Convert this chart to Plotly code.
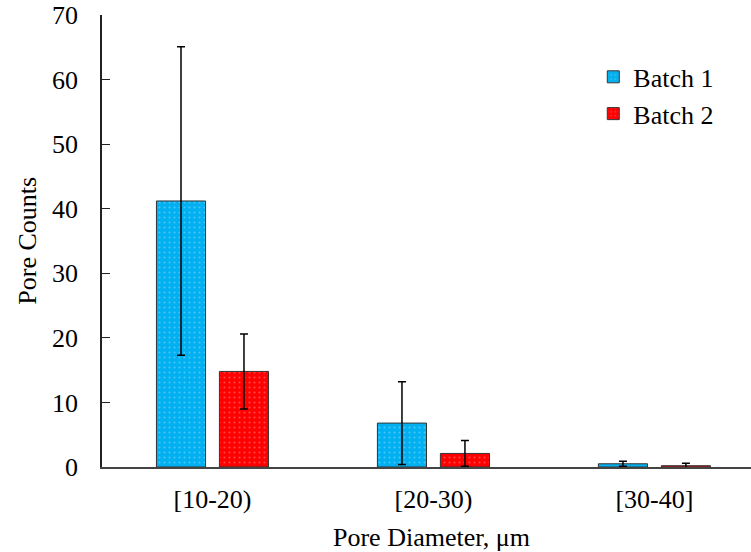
import plotly.graph_objects as go

categories = ["[10-20)", "[20-30)", "[30-40]"]
batch1 = [41.2, 6.8, 0.5]
batch1_err = [23.9, 6.4, 0.4]
batch2 = [14.8, 2.1, 0.2]
batch2_err = [5.8, 2.0, 0.4]
y_ticks = [0, 10, 20, 30, 40, 50, 60, 70]

FONT = "Liberation Serif, Times New Roman, serif"
FS = 26

fig = go.Figure()
fig.add_trace(go.Bar(
    name="Batch 1", x=categories, y=batch1,
    error_y=dict(type="data", array=batch1_err, visible=True, color="black", thickness=1.5, width=4),
    marker=dict(color="#00B0F0", line=dict(color="#333333", width=1),
                pattern=dict(shape=".", fgcolor="rgba(255,255,255,0.55)", size=5, solidity=0.15)),
))
fig.add_trace(go.Bar(
    name="Batch 2", x=categories, y=batch2,
    error_y=dict(type="data", array=batch2_err, visible=True, color="black", thickness=1.5, width=4),
    marker=dict(color="#FF0000", line=dict(color="#333333", width=1),
                pattern=dict(shape=".", fgcolor="rgba(255,255,255,0.55)", size=5, solidity=0.15)),
))

fig.update_layout(
    width=751, height=552,
    margin=dict(l=102, r=0, t=15, b=85, autoexpand=False),
    paper_bgcolor="white", plot_bgcolor="white",
    barmode="group", bargap=0.43, bargroupgap=0.22,
    font=dict(family=FONT, size=FS, color="black"),
    legend=dict(x=0.757, y=0.915, xanchor="left", yanchor="top",
                font=dict(family=FONT, size=FS), bgcolor="rgba(0,0,0,0)",
                tracegroupgap=0, itemwidth=30),
    showlegend=True,
    annotations=[
        dict(text="Pore Counts", xref="paper", yref="paper", x=-0.116, y=0.5,
             xanchor="center", yanchor="middle", textangle=-90, showarrow=False,
             font=dict(family=FONT, size=FS)),
        dict(text="Pore Diameter, μm", xref="paper", yref="paper", x=0.508, y=-0.155,
             xanchor="center", yanchor="middle", showarrow=False,
             font=dict(family=FONT, size=FS)),
    ],
)
fig.update_xaxes(
    type="category", range=[-0.5, 2.437], automargin=False,
    showline=True, linecolor="#444444", linewidth=1.5,
    ticks="", showgrid=False, zeroline=False,
    tickfont=dict(family=FONT, size=FS), ticklabelstandoff=8,
)
fig.update_yaxes(
    range=[0, 70], tickvals=y_ticks, automargin=False,
    showline=True, linecolor="#222222", linewidth=1.5,
    ticks="inside", ticklen=8, tickcolor="#222222", tickwidth=1,
    showgrid=False, zeroline=False,
    tickfont=dict(family=FONT, size=FS), ticklabelstandoff=17,
)

fig.write_html("out.html", config={"displayModeBar": False},
               post_script="document.body.style.margin='0';document.body.style.overflow='hidden';")
